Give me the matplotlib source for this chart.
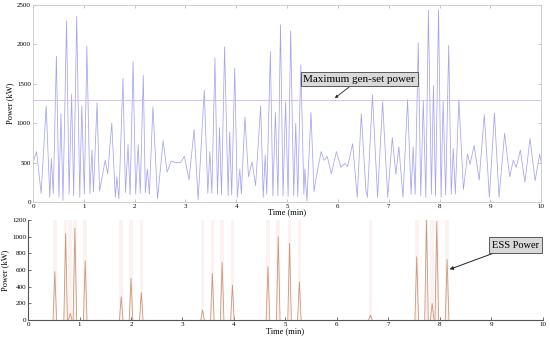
import matplotlib
matplotlib.use("Agg")
import matplotlib.pyplot as plt
import numpy as np

plt.rcParams['font.family'] = ['Liberation Serif', 'DejaVu Serif']

# load power (kW), extrema
load_t = [0.00, 0.07, 0.16, 0.26, 0.33, 0.36, 0.40, 0.46, 0.51, 0.55, 0.59, 0.66, 0.71, 0.76,
          0.80, 0.86, 0.92, 0.96, 1.01, 1.06, 1.12, 1.16, 1.19, 1.26, 1.31, 1.42, 1.47, 1.55,
          1.62, 1.65, 1.69, 1.77, 1.82, 1.87, 1.91, 1.97, 2.02, 2.07, 2.11, 2.17, 2.21, 2.25,
          2.29, 2.36, 2.45, 2.56, 2.64, 2.72, 2.80, 2.90, 2.98, 3.07, 3.17, 3.25, 3.37, 3.44,
          3.48, 3.52, 3.58, 3.63, 3.67, 3.71, 3.77, 3.84, 3.87, 3.91, 3.97, 4.02, 4.07, 4.10,
          4.17, 4.24, 4.31, 4.38, 4.48, 4.53, 4.57, 4.60, 4.67, 4.72, 4.77, 4.82, 4.87, 4.92,
          4.97, 5.02, 5.07, 5.13, 5.17, 5.21, 5.27, 5.33, 5.35, 5.39, 5.47, 5.53, 5.56, 5.67,
          5.73, 5.79, 5.87, 5.97, 6.06, 6.14, 6.19, 6.29, 6.38, 6.46, 6.55, 6.58, 6.68, 6.78,
          6.88, 6.98, 7.07, 7.14, 7.20, 7.28, 7.37, 7.44, 7.48, 7.52, 7.58, 7.63, 7.68, 7.73,
          7.78, 7.84, 7.88, 7.92, 7.98, 8.03, 8.07, 8.12, 8.18, 8.23, 8.27, 8.31, 8.38, 8.47,
          8.55, 8.60, 8.68, 8.78, 8.88, 8.98, 9.08, 9.17, 9.28, 9.38, 9.45, 9.51, 9.59, 9.68,
          9.78, 9.88, 9.97, 10.00]
load_kw = [500, 640, 110, 1220, 60, 550, 110, 1850, 60, 1120, 20, 2300, 100, 1370,
           80, 2360, 60, 1220, 100, 1980, 110, 660, 130, 1260, 140, 530, 360, 1000,
           60, 320, 40, 1570, 120, 730, 90, 1780, 100, 730, 110, 1610, 120, 420,
           100, 1210, 40, 775, 380, 520, 500, 500, 580, 280, 920, 30, 1420, 110,
           640, 110, 1830, 100, 945, 90, 1970, 80, 890, 90, 1700, 60, 420, 100,
           1080, 320, 510, 210, 1220, 60, 600, 100, 1910, 80, 1140, 80, 2250, 80,
           1270, 70, 2170, 80, 1000, 70, 1740, 100, 420, 10, 1135, 130, 270, 640,
           530, 580, 360, 640, 440, 490, 450, 740, 60, 1120, 150, 60, 1360, 60,
           1270, 60, 820, 350, 700, 60, 1300, 100, 700, 100, 2020, 80, 1290, 60,
           2440, 100, 1480, 80, 2440, 60, 1280, 90, 1990, 100, 680, 100, 1300, 160,
           610, 480, 720, 280, 1110, 60, 1130, 60, 870, 320, 530, 440, 660, 250,
           810, 270, 610, 500]

genset_max = 1300

# ESS power bursts: peak time (min) and peak power (kW)
ess_t = [0.52, 0.73, 0.82, 0.91, 1.11, 1.81, 2.00, 2.20, 3.39, 3.58, 3.77, 3.97,
         4.66, 4.86, 5.08, 5.27, 6.65, 7.55, 7.74, 7.85, 7.94, 8.14]
ess_kw = [580, 1040, 80, 1100, 712, 280, 500, 330, 120, 560, 690, 420,
          640, 1000, 920, 460, 60, 760, 1200, 200, 1180, 728]

fig = plt.figure(figsize=(5.5, 3.39), dpi=100)
ax1 = fig.add_axes([0.06, 0.404, 0.924, 0.581])
ax2 = fig.add_axes([0.051, 0.056, 0.936, 0.295])

# upper panel
ax1.plot(load_t, load_kw, color='#a4a4f2', lw=0.55)
ax1.axhline(genset_max, color='#d4b4ec', lw=0.6)
ax1.set_xlim(0, 10)
ax1.set_ylim(0, 2500)
ax1.set_xticks(range(0, 11))
ax1.set_yticks(range(0, 2501, 500))
ax1.set_xlabel('Time (min)', fontsize=6, labelpad=-1)
ax1.set_ylabel('Power (kW)', fontsize=6, labelpad=2)
ax1.tick_params(direction='in', labelsize=5, length=2, width=0.4, color='#999999',
                top=True, right=True, pad=1.5)
for s in ax1.spines.values():
    s.set_color('#c8c8c8')
    s.set_linewidth(0.6)
ax1.annotate('Maximum gen-set power', xy=(5.94, 1320), xytext=(6.42, 1560),
             fontsize=8, ha='center', va='center',
             bbox=dict(boxstyle='square,pad=0.25', fc='#d9d9d9', ec='#444444', lw=0.6),
             arrowprops=dict(arrowstyle='-|>', color='#222222', lw=0.6,
                             mutation_scale=4, shrinkA=0, shrinkB=0))

# lower panel: each burst drawn as a narrow spike from zero
half = 0.035
ax2.axhline(0, color='#f4c0c0', lw=0.5)
for t, p in zip(ess_t, ess_kw):
    ax2.axvspan(t - half, t + half, color='#fdf2f2', lw=0)
    ax2.plot([t - half, t, t + half], [0, p, 0], color='#cc9878', lw=0.6)
ax2.set_xlim(0, 10)
ax2.set_ylim(0, 1200)
ax2.set_xticks(range(0, 11))
ax2.set_yticks(range(0, 1201, 200))
ax2.set_xlabel('Time (min)', fontsize=6, labelpad=0)
ax2.set_ylabel('Power (kW)', fontsize=6, labelpad=2)
ax2.tick_params(direction='in', labelsize=5, length=2, width=0.4, pad=1.5)
ax2.spines['top'].set_visible(False)
ax2.spines['right'].set_visible(False)
for s in ('left', 'bottom'):
    ax2.spines[s].set_color('#555555')
    ax2.spines[s].set_linewidth(0.8)
ax2.annotate('ESS Power', xy=(8.19, 608), xytext=(9.47, 900),
             fontsize=7.5, ha='center', va='center',
             bbox=dict(boxstyle='square,pad=0.3', fc='#d9d9d9', ec='#444444', lw=0.6),
             arrowprops=dict(arrowstyle='-|>', color='#222222', lw=0.7,
                             mutation_scale=5, shrinkA=0, shrinkB=0))

fig.savefig('out.png', dpi=100)
